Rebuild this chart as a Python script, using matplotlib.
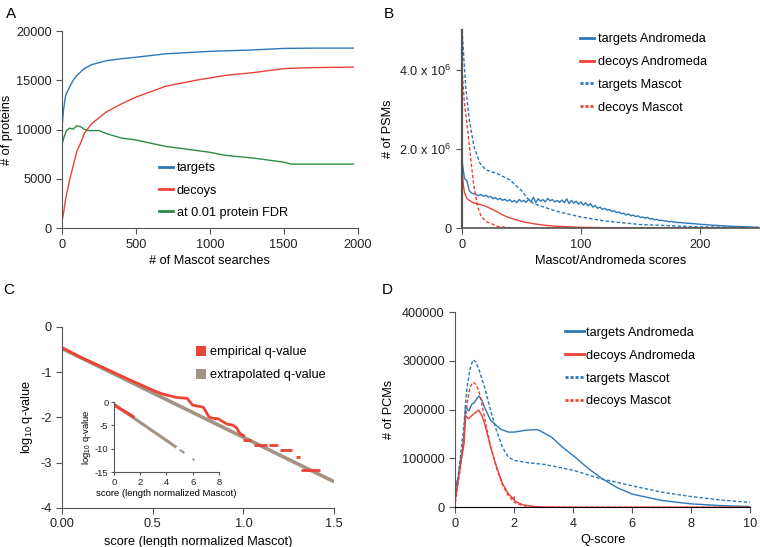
import numpy as np
import matplotlib
matplotlib.use('Agg')
import matplotlib.pyplot as plt
from matplotlib.patches import Patch

plt.rcParams['font.family'] = ['Liberation Sans', 'DejaVu Sans']
plt.rcParams['mathtext.fontset'] = 'custom'
plt.rcParams['mathtext.rm'] = 'Liberation Sans'
plt.rcParams['mathtext.it'] = 'Liberation Sans'
plt.rcParams['font.size'] = 9.2
plt.rcParams['axes.unicode_minus'] = False

BLUE = '#2b78b9'
RED = '#ec4237'
GREEN = '#2e8b47'
TAUPE = '#a39384'

# ---- panel A data ----
a_x = [0, 10, 25, 50, 75, 100, 150, 200, 300, 400, 500, 700, 1000, 1300, 1500, 1700, 1970]
a_targets = [10200, 12000, 13500, 14300, 15000, 15500, 16200, 16600, 17000, 17200, 17350, 17700,
             17950, 18100, 18250, 18280, 18280]
a_dx = [0, 10, 25, 50, 75, 100, 125, 150, 200, 300, 400, 500, 700, 900, 1100, 1300, 1500, 1700, 1970]
a_decoys = [700, 1500, 3000, 4800, 6300, 7800, 8600, 9600, 10600, 11800, 12600, 13300, 14400, 15000,
            15500, 15800, 16200, 16300, 16350]
a_gx = [0, 15, 30, 50, 75, 100, 125, 150, 175, 250, 300, 400, 500, 700, 900, 1000, 1100, 1300,
        1500, 1550, 1970]
a_fdr = [8500, 9300, 9900, 10150, 10050, 10400, 10300, 10050, 9900, 9900, 9600, 9150, 8950, 8300,
         7900, 7700, 7400, 7100, 6700, 6500, 6500]

# ---- panel B data (scores, counts in millions) ----
b_tx = np.arange(0, 252, 2)
b_targets_andromeda = [1.70, 1.25, 1.20, 0.95, 0.88, 0.87, 0.84, 0.82, 0.85, 0.80, 0.83, 0.78, 0.80,
                       0.74, 0.77, 0.72, 0.75, 0.70, 0.73, 0.68, 0.72, 0.66, 0.70, 0.64, 0.72, 0.67,
                       0.70, 0.65, 0.73, 0.66, 0.78, 0.64, 0.74, 0.68, 0.72, 0.66, 0.75, 0.69, 0.72,
                       0.66, 0.70, 0.65, 0.71, 0.64, 0.74, 0.62, 0.70, 0.63, 0.68, 0.60, 0.66, 0.58,
                       0.64, 0.56, 0.62, 0.53, 0.57, 0.50, 0.53, 0.47, 0.50, 0.45, 0.47, 0.42, 0.44,
                       0.39, 0.41, 0.36, 0.38, 0.33, 0.36, 0.31, 0.33, 0.29, 0.31, 0.27, 0.28, 0.25,
                       0.27, 0.23, 0.24, 0.21, 0.22, 0.19, 0.20, 0.18, 0.18, 0.16, 0.17, 0.15, 0.15,
                       0.14, 0.14, 0.13, 0.13, 0.12, 0.12, 0.11, 0.11, 0.10, 0.10, 0.09, 0.09, 0.085,
                       0.08, 0.075, 0.07, 0.068, 0.065, 0.06, 0.058, 0.055, 0.05, 0.048, 0.045,
                       0.042, 0.04, 0.038, 0.035, 0.033, 0.03, 0.028, 0.026, 0.024, 0.022, 0.02]
b_dx = [0, 1, 2, 4, 6, 10, 15, 20, 25, 30, 35, 40, 50, 60, 70, 80, 100, 120, 150, 250]
b_decoys_andromeda = [1.5, 1.1, 0.9, 0.75, 0.7, 0.63, 0.6, 0.55, 0.48, 0.40, 0.32, 0.26, 0.17, 0.11,
                      0.07, 0.045, 0.02, 0.01, 0.003, 0.0]
b_mx = [0, 3, 6, 10, 15, 20, 30, 40, 50, 55, 60, 80, 100, 120, 150, 200, 250]
b_targets_mascot = [5.0, 3.58, 2.74, 2.06, 1.64, 1.47, 1.37, 1.22, 0.95, 0.75, 0.62, 0.42, 0.28, 0.18,
                    0.09, 0.03, 0.01]
b_mdx = [0, 2, 5, 8, 10, 13, 16, 20, 30, 40, 60, 250]
b_decoys_mascot = [4.0, 3.16, 2.4, 1.56, 1.05, 0.55, 0.3, 0.17, 0.04, 0.01, 0.0, 0.0]

# ---- panel C data ----
c_ex_x = [0.0, 1.5]
c_ex_y = [-0.48, -3.42]
c_emp_x = [0.0, 0.1, 0.21, 0.35, 0.5, 0.55, 0.63, 0.69, 0.72, 0.76, 0.78, 0.81, 0.83, 0.86, 0.91,
           0.94, 0.96, 0.98, 1.0]
c_emp_y = [-0.46, -0.67, -0.87, -1.13, -1.40, -1.48, -1.56, -1.58, -1.73, -1.76, -1.78, -1.99, -2.02,
           -2.03, -2.15, -2.17, -2.22, -2.35, -2.40]
c_seg_start = [1.0, 1.06, 1.14, 1.2, 1.29, 1.32]
c_seg_end = [1.04, 1.13, 1.19, 1.27, 1.31, 1.42]
c_seg_y = [-2.5, -2.6, -2.6, -2.72, -2.88, -3.16]
# inset
ci_emp_x = [0.0, 0.5, 1.0, 1.45]
ci_emp_y = [-0.6, -1.5, -2.3, -3.1]
ci_ex_x = [0.0, 4.76]
ci_ex_y = [-0.5, -9.7]
ci_dot_x = [5.05, 5.15, 5.25, 6.05]
ci_dot_y = [-10.2, -10.4, -10.6, -12.3]

# ---- panel D data ----
d_tax = [0, 0.05, 0.1, 0.2, 0.25, 0.3, 0.35, 0.4, 0.46, 0.55, 0.65, 0.8, 0.9, 0.97, 1.2, 1.54, 1.8,
         2.0, 2.4, 2.8, 3.26, 3.6, 4.06, 4.5, 4.97, 5.5, 6.0, 7.0, 8.0, 9.0, 10.0]
d_targets_andromeda = [35000, 52000, 60000, 103000, 120000, 150000, 208000, 202000, 197000, 210000,
                       215000, 228000, 220000, 208000, 178000, 160000, 154000, 154000, 158000, 159000,
                       144000, 125000, 103000, 80000, 59000, 40000, 27000, 14000, 7000, 3500, 1500]
d_tmx = [0, 0.2, 0.3, 0.4, 0.5, 0.6, 0.7, 0.8, 1.0, 1.2, 1.4, 1.6, 1.8, 2.0, 2.5, 3.0, 4.0, 4.9, 6.0,
         7.0, 8.0, 9.0, 10.0]
d_targets_mascot = [10000, 117000, 171000, 246000, 283000, 302000, 298000, 283000, 245000, 198000,
                    157000, 123000, 103000, 96000, 91000, 88000, 76000, 59000, 44000, 31000, 22000,
                    15000, 10000]
d_dax = [0, 0.2, 0.3, 0.35, 0.45, 0.6, 0.8, 0.9, 1.0, 1.2, 1.4, 1.6, 1.8, 1.99, 2.0, 2.01, 2.3, 2.6,
         3.0, 4.0, 10.0]
d_decoys_andromeda = [15000, 95000, 130000, 188000, 181000, 190000, 199000, 188000, 171000, 123000,
                      83000, 49000, 28000, 16000, 21000, 13000, 5000, 2000, 500, 0, 0]
d_dmx = [0, 0.2, 0.4, 0.5, 0.6, 0.7, 0.8, 0.9, 1.0, 1.2, 1.4, 1.6, 1.8, 2.0, 2.3, 3.0, 10.0]
d_decoys_mascot = [10000, 90000, 212000, 246000, 256000, 252000, 239000, 212000, 181000, 125000,
                   80000, 46000, 24000, 10000, 3000, 0, 0]


def style_axes(ax):
    ax.spines['top'].set_visible(False)
    ax.spines['right'].set_visible(False)
    ax.spines['left'].set_color('#555555')
    ax.spines['bottom'].set_color('#555555')
    ax.tick_params(direction='out', length=4, width=0.8, color='#555555', labelcolor='#222222')


def thicken_legend(leg):
    # thicker legend keys, dashed ones get a finer dash so several dashes show
    for h in leg.legend_handles:
        dashed = h.get_linestyle() not in ('-', 'solid')
        h.set_linewidth(2)
        if dashed:
            h.set_linestyle((0, (1.1, 0.7)))


fig = plt.figure(figsize=(7.6, 5.47), dpi=100)

# ---------------- A ----------------
axA = fig.add_axes([0.0816, 0.583, 0.389, 0.360])
axA.plot(a_x, a_targets, color=BLUE, lw=1, label='targets')
axA.plot(a_dx, a_decoys, color=RED, lw=1, label='decoys')
axA.plot(a_gx, a_fdr, color=GREEN, lw=1, label='at 0.01 protein FDR')
axA.set_xlim(0, 2000)
axA.set_ylim(0, 20000)
axA.set_xticks([0, 500, 1000, 1500, 2000])
axA.set_yticks([0, 5000, 10000, 15000, 20000])
axA.set_xlabel('# of Mascot searches', labelpad=3)
axA.set_ylabel('# of proteins', labelpad=2)
style_axes(axA)
leg = axA.legend(loc='upper left', bbox_to_anchor=(0.31, 0.36), frameon=False, handlelength=1.1,
                 handletextpad=0.3, labelspacing=0.8, borderaxespad=0)
thicken_legend(leg)

# ---------------- B ----------------
axB = fig.add_axes([0.608, 0.583, 0.391, 0.362])
axB.plot(b_tx, np.array(b_targets_andromeda) * 1e6, color=BLUE, lw=1, label='targets Andromeda')
axB.plot(b_dx, np.array(b_decoys_andromeda) * 1e6, color=RED, lw=1, label='decoys Andromeda')
axB.plot(b_mx, np.array(b_targets_mascot) * 1e6, color=BLUE, lw=1, ls=(0, (2.5, 1.5)),
         label='targets Mascot')
axB.plot(b_mdx, np.array(b_decoys_mascot) * 1e6, color=RED, lw=1, ls=(0, (2.5, 1.5)),
         label='decoys Mascot')
axB.set_xlim(0, 250)
axB.set_ylim(0, 5e6)
axB.set_xticks([0, 100, 200])
axB.set_yticks([0, 2e6, 4e6])
axB.set_yticklabels(['0', '2.0 x 10$^{6}$', '4.0 x 10$^{6}$'])
axB.set_xlabel('Mascot/Andromeda scores', labelpad=3)
axB.set_ylabel('# of PSMs', labelpad=4)
style_axes(axB)
axB.spines['left'].set_linewidth(1.6)
axB.spines['bottom'].set_linewidth(1.2)
leg = axB.legend(loc='upper left', bbox_to_anchor=(0.38, 1.01), frameon=False, handlelength=1.1,
                 handletextpad=0.3, labelspacing=0.85, borderaxespad=0)
thicken_legend(leg)

# ---------------- C ----------------
axC = fig.add_axes([0.0816, 0.0713, 0.358, 0.3314])
axC.plot(c_ex_x, c_ex_y, color=TAUPE, lw=2.6, solid_capstyle='butt')
axC.plot(c_emp_x, c_emp_y, color=RED, lw=2)
axC.hlines(c_seg_y, c_seg_start, c_seg_end, color=RED, lw=2)
axC.set_xlim(0, 1.5)
axC.set_ylim(-4, 0)
axC.set_xticks([0, 0.5, 1.0, 1.5])
axC.set_xticklabels(['0.00', '0.5', '1.0', '1.5'])
axC.set_yticks([0, -1, -2, -3, -4])
axC.set_xlabel('score (length normalized Mascot)', labelpad=4)
axC.set_ylabel('log$_{10}$ q-value', labelpad=4)
style_axes(axC)
c_handles = [Patch(facecolor=RED, edgecolor='none'), Patch(facecolor=TAUPE, edgecolor='none')]
axC.legend(c_handles, ['empirical q-value', 'extrapolated q-value'], loc='upper left',
           bbox_to_anchor=(0.475, 0.92), frameon=False, handlelength=0.75, handleheight=0.75,
           handletextpad=0.3, labelspacing=0.85, borderaxespad=0)

# inset
axI = fig.add_axes([0.150, 0.137, 0.138, 0.128])
axI.plot(ci_ex_x, ci_ex_y, color=TAUPE, lw=2.2, solid_capstyle='butt')
axI.plot(ci_emp_x, ci_emp_y, color=RED, lw=2.2)
axI.scatter(ci_dot_x, ci_dot_y, color=TAUPE, s=3, linewidths=0)
axI.set_xlim(0, 8)
axI.set_ylim(-15, 0)
axI.set_xticks([0, 2, 4, 6, 8])
axI.set_yticks([0, -5, -10, -15])
axI.set_xlabel('score (length normalized Mascot)', fontsize=6.8, labelpad=2)
axI.set_ylabel('log$_{10}$ q-value', fontsize=6.8, labelpad=1)
style_axes(axI)
axI.tick_params(labelsize=6.8, length=2.5, pad=1.5)
axI.patch.set_alpha(0)

# ---------------- D ----------------
axD = fig.add_axes([0.599, 0.0726, 0.388, 0.357])
axD.plot(d_tax, d_targets_andromeda, color=BLUE, lw=1, label='targets Andromeda')
axD.plot(d_dax, d_decoys_andromeda, color=RED, lw=1, label='decoys Andromeda')
axD.plot(d_tmx, d_targets_mascot, color=BLUE, lw=1, ls=(0, (2.5, 1.5)), label='targets Mascot')
axD.plot(d_dmx, d_decoys_mascot, color=RED, lw=1, ls=(0, (2.5, 1.5)), label='decoys Mascot')
axD.set_xlim(0, 10)
axD.set_ylim(0, 400000)
axD.set_xticks([0, 2, 4, 6, 8, 10])
axD.set_yticks([0, 100000, 200000, 300000, 400000])
axD.set_xlabel('Q-score', labelpad=3)
axD.set_ylabel('# of PCMs', labelpad=5)
style_axes(axD)
axD.spines['bottom'].set_color('black')
leg = axD.legend(loc='upper left', bbox_to_anchor=(0.355, 0.95), frameon=False, handlelength=1.5,
                 handletextpad=0.15, labelspacing=0.85, borderaxespad=0)
thicken_legend(leg)

# panel letters
for lab, x, y in [('A', 0.008, 0.975), ('B', 0.505, 0.975), ('C', 0.004, 0.47), ('D', 0.502, 0.47)]:
    fig.text(x, y, lab, fontsize=11, va='center', ha='left')

fig.savefig('out.png', dpi=100)
